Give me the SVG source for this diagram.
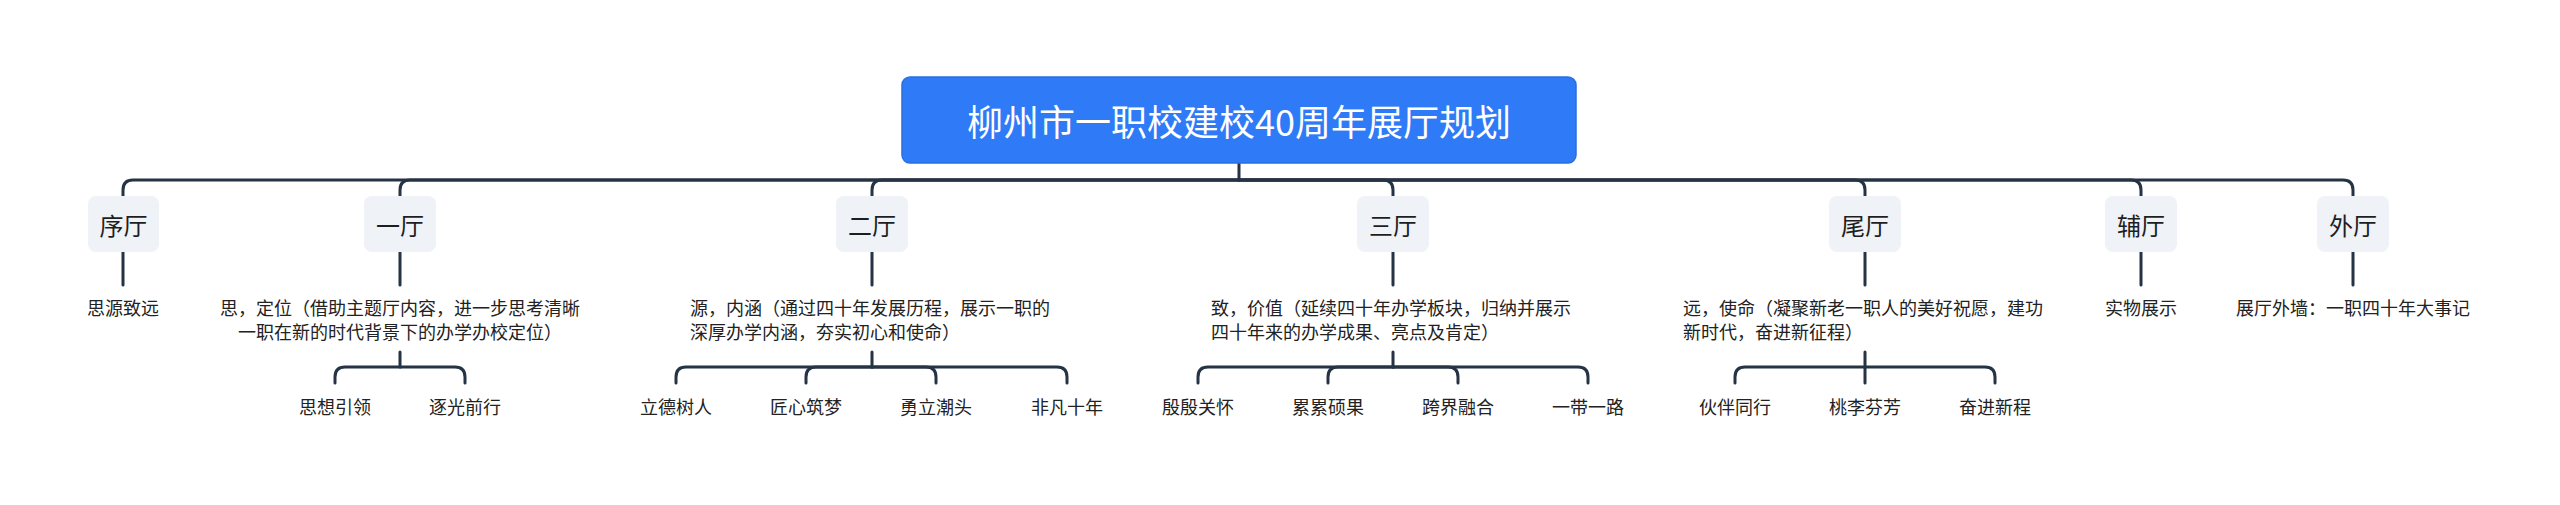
<svg xmlns="http://www.w3.org/2000/svg" width="2560" height="505" viewBox="0 0 2560 505">
<style>
.bg{fill:#ffffff}
.root rect{fill:#2f7bf7;stroke:#2a6fe0;stroke-width:1.5}
.root text{fill:#ffffff;font-size:36px}
.hall rect{fill:#eff2f6}
.hall text{fill:#1e1e1e;font-size:24px}
text{font-family:"Noto Sans CJK SC","Noto Sans",sans-serif;dominant-baseline:central}
.t{fill:#222222;font-size:18px}
.c{text-anchor:middle}
#connectors path{fill:none;stroke:#263345;stroke-width:3;stroke-linecap:round}
</style>
<rect class="bg" x="0" y="0" width="2560" height="505"/>
<g id="connectors">
<path d="M1239,163 V180"/>
<path d="M1239,180 H133 Q123,180 123,190 V196"/>
<path d="M1239,180 H410 Q400,180 400,190 V196"/>
<path d="M1239,180 H882 Q872,180 872,190 V196"/>
<path d="M1239,180 H1383 Q1393,180 1393,190 V196"/>
<path d="M1239,180 H1855 Q1865,180 1865,190 V196"/>
<path d="M1239,180 H2131 Q2141,180 2141,190 V196"/>
<path d="M1239,180 H2343 Q2353,180 2353,190 V196"/>
<path d="M123,252 V285"/>
<path d="M400,252 V285"/>
<path d="M872,252 V285"/>
<path d="M1393,252 V285"/>
<path d="M1865,252 V285"/>
<path d="M2141,252 V285"/>
<path d="M2353,252 V285"/>
<path d="M400,352 V367 H345 Q335,367 335,377 V383"/>
<path d="M400,367 H455 Q465,367 465,377 V383"/>
<path d="M872,352 V367 H686 Q676,367 676,377 V383"/>
<path d="M872,367 H816 Q806,367 806,377 V383"/>
<path d="M872,367 H926 Q936,367 936,377 V383"/>
<path d="M872,367 H1057 Q1067,367 1067,377 V383"/>
<path d="M1393,352 V367 H1208 Q1198,367 1198,377 V383"/>
<path d="M1393,367 H1338 Q1328,367 1328,377 V383"/>
<path d="M1393,367 H1448 Q1458,367 1458,377 V383"/>
<path d="M1393,367 H1578 Q1588,367 1588,377 V383"/>
<path d="M1865,352 V383"/>
<path d="M1865,367 H1745 Q1735,367 1735,377 V383"/>
<path d="M1865,367 H1985 Q1995,367 1995,377 V383"/>
</g>
<g id="root" class="root">
<rect x="902" y="77" width="674" height="86" rx="8"/>
<text class="c" x="1239" y="120">柳州市一职校建校40周年展厅规划</text>
</g>
<g id="hall-xu" class="hall"><rect x="88" y="196" width="71" height="56" rx="8"/><text class="c" x="123.5" y="224">序厅</text></g>
<g id="hall-1" class="hall"><rect x="364" y="196" width="72" height="56" rx="8"/><text class="c" x="400" y="224">一厅</text></g>
<g id="hall-2" class="hall"><rect x="836" y="196" width="72" height="56" rx="8"/><text class="c" x="872" y="224">二厅</text></g>
<g id="hall-3" class="hall"><rect x="1357" y="196" width="72" height="56" rx="8"/><text class="c" x="1393" y="224">三厅</text></g>
<g id="hall-wei" class="hall"><rect x="1829" y="196" width="72" height="56" rx="8"/><text class="c" x="1865" y="224">尾厅</text></g>
<g id="hall-fu" class="hall"><rect x="2105" y="196" width="72" height="56" rx="8"/><text class="c" x="2141" y="224">辅厅</text></g>
<g id="hall-wai" class="hall"><rect x="2317" y="196" width="72" height="56" rx="8"/><text class="c" x="2353" y="224">外厅</text></g>
<g id="desc-xu"><text class="t c" x="123" y="307">思源致远</text></g>
<g id="desc-1"><text class="t c" x="400" y="307">思，定位（借助主题厅内容，进一步思考清晰</text><text class="t c" x="400" y="331">一职在新的时代背景下的办学办校定位）</text></g>
<g id="desc-2"><text class="t" x="690" y="307">源，内涵（通过四十年发展历程，展示一职的</text><text class="t" x="690" y="331">深厚办学内涵，夯实初心和使命）</text></g>
<g id="desc-3"><text class="t" x="1211" y="307">致，价值（延续四十年办学板块，归纳并展示</text><text class="t" x="1211" y="331">四十年来的办学成果、亮点及肯定）</text></g>
<g id="desc-wei"><text class="t" x="1683" y="307">远，使命（凝聚新老一职人的美好祝愿，建功</text><text class="t" x="1683" y="331">新时代，奋进新征程）</text></g>
<g id="desc-fu"><text class="t c" x="2141" y="307">实物展示</text></g>
<g id="desc-wai"><text class="t c" x="2353" y="307">展厅外墙：一职四十年大事记</text></g>
<g id="leaf-1a"><text class="t c" x="335" y="406">思想引领</text></g>
<g id="leaf-1b"><text class="t c" x="465" y="406">逐光前行</text></g>
<g id="leaf-2a"><text class="t c" x="676" y="406">立德树人</text></g>
<g id="leaf-2b"><text class="t c" x="806" y="406">匠心筑梦</text></g>
<g id="leaf-2c"><text class="t c" x="936" y="406">勇立潮头</text></g>
<g id="leaf-2d"><text class="t c" x="1067" y="406">非凡十年</text></g>
<g id="leaf-3a"><text class="t c" x="1198" y="406">殷殷关怀</text></g>
<g id="leaf-3b"><text class="t c" x="1328" y="406">累累硕果</text></g>
<g id="leaf-3c"><text class="t c" x="1458" y="406">跨界融合</text></g>
<g id="leaf-3d"><text class="t c" x="1588" y="406">一带一路</text></g>
<g id="leaf-wa"><text class="t c" x="1735" y="406">伙伴同行</text></g>
<g id="leaf-wb"><text class="t c" x="1865" y="406">桃李芬芳</text></g>
<g id="leaf-wc"><text class="t c" x="1995" y="406">奋进新程</text></g>
</svg>
